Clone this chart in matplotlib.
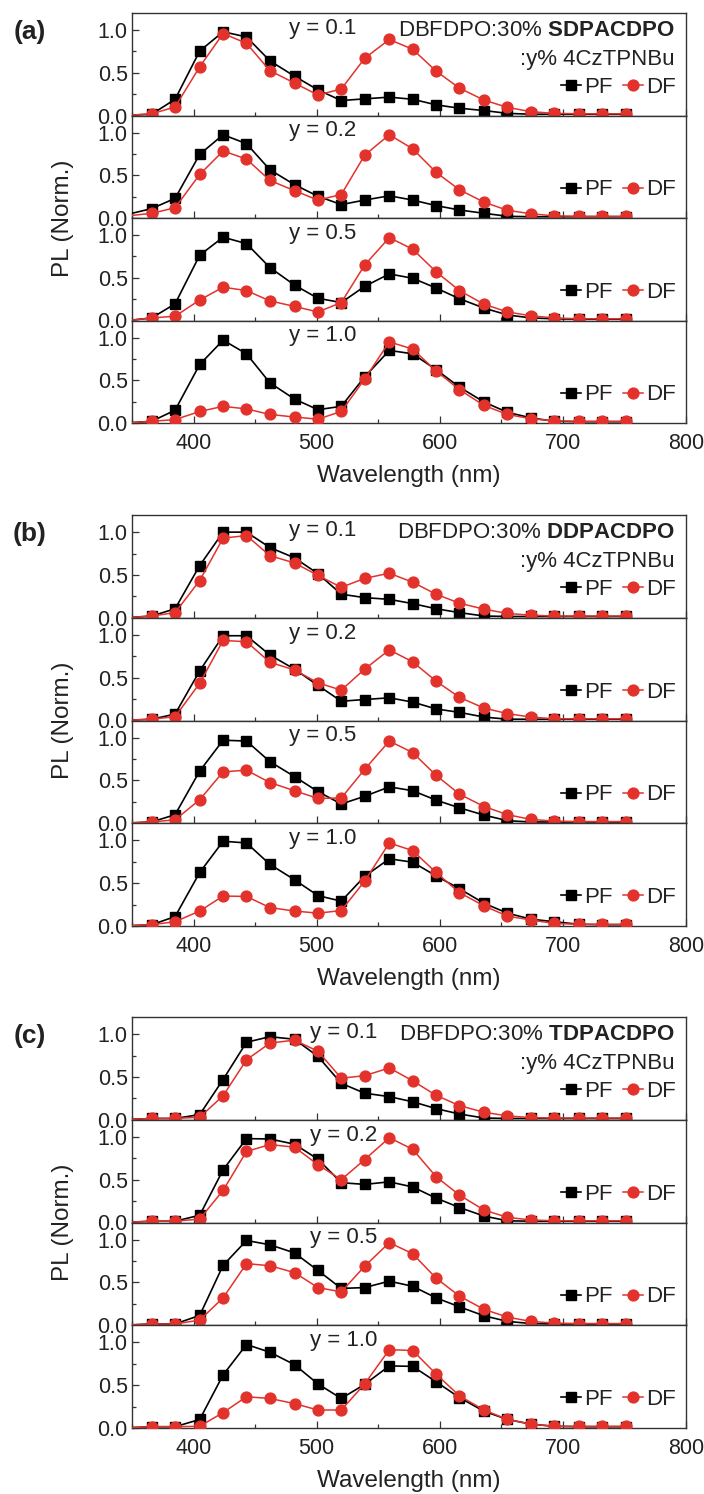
import matplotlib
matplotlib.use('Agg')
import matplotlib.pyplot as plt
from matplotlib.ticker import MultipleLocator, FormatStrFormatter

plt.rcParams['font.family'] = ['Liberation Sans', 'DejaVu Sans']
plt.rcParams['mathtext.fontset'] = 'custom'
plt.rcParams['mathtext.rm'] = 'Liberation Sans'
plt.rcParams['mathtext.bf'] = 'Liberation Sans:bold'

# ---------------- data ----------------
WAVELENGTH = [350, 366, 385, 405, 424, 443, 462, 482, 501, 520, 539,
              559, 578, 597, 616, 636, 655, 674, 693, 713, 732, 751]

Y_LABELS = ["y = 0.1", "y = 0.2", "y = 0.5", "y = 1.0"]
HOSTS = ["SDPACDPO", "DDPACDPO", "TDPACDPO"]
PANEL_TAGS = ["(a)", "(b)", "(c)"]

A1_PF = [0.005, 0.015, 0.19, 0.755, 0.98, 0.92, 0.64, 0.46, 0.30, 0.175, 0.195, 0.215, 0.19, 0.125, 0.085, 0.058, 0.025, 0.015, 0.015, 0.015, 0.015, 0.015]
A1_DF = [0.005, 0.02, 0.10, 0.57, 0.96, 0.845, 0.525, 0.38, 0.24, 0.31, 0.67, 0.89, 0.775, 0.52, 0.32, 0.18, 0.095, 0.045, 0.025, 0.02, 0.02, 0.02]
A2_PF = [0.055, 0.11, 0.23, 0.745, 0.975, 0.87, 0.565, 0.39, 0.255, 0.157, 0.21, 0.26, 0.21, 0.145, 0.094, 0.055, 0.02, 0.015, 0.015, 0.015, 0.015, 0.015]
A2_DF = [0.03, 0.055, 0.12, 0.51, 0.785, 0.69, 0.44, 0.32, 0.21, 0.275, 0.735, 0.975, 0.81, 0.535, 0.33, 0.185, 0.09, 0.05, 0.025, 0.02, 0.02, 0.02]
A3_PF = [0.005, 0.03, 0.195, 0.765, 0.975, 0.90, 0.62, 0.415, 0.26, 0.21, 0.40, 0.545, 0.495, 0.38, 0.255, 0.145, 0.065, 0.03, 0.02, 0.015, 0.015, 0.015]
A3_DF = [0.005, 0.03, 0.05, 0.24, 0.39, 0.35, 0.23, 0.165, 0.10, 0.21, 0.65, 0.97, 0.835, 0.57, 0.35, 0.19, 0.10, 0.055, 0.03, 0.02, 0.02, 0.02]
A4_PF = [0.005, 0.02, 0.15, 0.685, 0.97, 0.81, 0.47, 0.28, 0.156, 0.195, 0.54, 0.85, 0.81, 0.625, 0.42, 0.245, 0.125, 0.06, 0.02, 0.015, 0.015, 0.015]
A4_DF = [0.005, 0.02, 0.04, 0.135, 0.195, 0.165, 0.10, 0.07, 0.045, 0.135, 0.515, 0.95, 0.865, 0.61, 0.39, 0.205, 0.10, 0.05, 0.025, 0.02, 0.02, 0.02]

B1_PF = [0.005, 0.02, 0.105, 0.61, 1.0, 1.0, 0.82, 0.70, 0.515, 0.275, 0.235, 0.215, 0.165, 0.105, 0.06, 0.02, 0.015, 0.015, 0.015, 0.015, 0.015, 0.015]
B1_DF = [0.005, 0.02, 0.06, 0.435, 0.93, 0.96, 0.725, 0.64, 0.495, 0.355, 0.46, 0.52, 0.415, 0.275, 0.17, 0.10, 0.05, 0.03, 0.02, 0.02, 0.02, 0.02]
B2_PF = [0.005, 0.015, 0.075, 0.58, 0.99, 0.99, 0.765, 0.60, 0.41, 0.225, 0.245, 0.265, 0.215, 0.135, 0.095, 0.04, 0.015, 0.015, 0.015, 0.015, 0.015, 0.015]
B2_DF = [0.005, 0.015, 0.045, 0.435, 0.935, 0.92, 0.68, 0.59, 0.44, 0.355, 0.60, 0.825, 0.685, 0.46, 0.27, 0.145, 0.08, 0.04, 0.02, 0.02, 0.02, 0.02]
B3_PF = [0.005, 0.015, 0.10, 0.61, 0.97, 0.96, 0.72, 0.545, 0.37, 0.225, 0.315, 0.425, 0.38, 0.27, 0.18, 0.095, 0.03, 0.015, 0.015, 0.015, 0.015, 0.015]
B3_DF = [0.005, 0.015, 0.04, 0.275, 0.60, 0.62, 0.475, 0.38, 0.29, 0.295, 0.63, 0.96, 0.825, 0.56, 0.34, 0.195, 0.10, 0.045, 0.025, 0.02, 0.02, 0.02]
B4_PF = [0.005, 0.015, 0.11, 0.625, 0.99, 0.97, 0.72, 0.54, 0.355, 0.29, 0.58, 0.785, 0.745, 0.585, 0.435, 0.265, 0.15, 0.08, 0.05, 0.02, 0.015, 0.015]
B4_DF = [0.005, 0.015, 0.05, 0.175, 0.35, 0.345, 0.215, 0.175, 0.15, 0.18, 0.525, 0.97, 0.88, 0.625, 0.39, 0.235, 0.115, 0.07, 0.03, 0.02, 0.02, 0.02]

C1_PF = [0.005, 0.015, 0.015, 0.06, 0.47, 0.905, 0.97, 0.94, 0.74, 0.425, 0.31, 0.27, 0.21, 0.13, 0.067, 0.02, 0.015, 0.015, 0.015, 0.015, 0.015, 0.015]
C1_DF = [0.005, 0.015, 0.015, 0.03, 0.28, 0.70, 0.895, 0.93, 0.80, 0.485, 0.515, 0.605, 0.455, 0.285, 0.165, 0.087, 0.045, 0.025, 0.02, 0.02, 0.02, 0.02]
C2_PF = [0.005, 0.015, 0.015, 0.085, 0.615, 0.98, 0.975, 0.915, 0.74, 0.465, 0.445, 0.475, 0.415, 0.285, 0.175, 0.075, 0.02, 0.015, 0.015, 0.015, 0.015, 0.015]
C2_DF = [0.005, 0.015, 0.015, 0.04, 0.375, 0.83, 0.91, 0.88, 0.675, 0.50, 0.735, 0.99, 0.855, 0.535, 0.32, 0.145, 0.06, 0.03, 0.02, 0.02, 0.02, 0.02]
C3_PF = [0.005, 0.015, 0.015, 0.115, 0.70, 0.99, 0.94, 0.845, 0.64, 0.43, 0.44, 0.515, 0.455, 0.32, 0.215, 0.11, 0.045, 0.02, 0.015, 0.015, 0.015, 0.015]
C3_DF = [0.005, 0.015, 0.015, 0.06, 0.32, 0.72, 0.695, 0.615, 0.44, 0.39, 0.69, 0.965, 0.835, 0.55, 0.34, 0.185, 0.095, 0.045, 0.025, 0.02, 0.02, 0.02]
C4_PF = [0.005, 0.015, 0.015, 0.10, 0.62, 0.975, 0.885, 0.74, 0.515, 0.345, 0.51, 0.725, 0.72, 0.54, 0.355, 0.195, 0.10, 0.045, 0.02, 0.015, 0.015, 0.015]
C4_DF = [0.005, 0.015, 0.015, 0.02, 0.18, 0.365, 0.345, 0.285, 0.21, 0.21, 0.515, 0.915, 0.905, 0.63, 0.375, 0.21, 0.10, 0.045, 0.02, 0.02, 0.02, 0.02]

PANEL_SERIES = [
    [(A1_PF, A1_DF), (A2_PF, A2_DF), (A3_PF, A3_DF), (A4_PF, A4_DF)],
    [(B1_PF, B1_DF), (B2_PF, B2_DF), (B3_PF, B3_DF), (B4_PF, B4_DF)],
    [(C1_PF, C1_DF), (C2_PF, C2_DF), (C3_PF, C3_DF), (C4_PF, C4_DF)],
]
# x-position (nm) of the "y = ..." labels per panel
YLABEL_X = [505, 505, 522]

# ---------------- layout ----------------
W, H = 704, 1494
fig = plt.figure(figsize=(W / 100, H / 100), dpi=100)
fig.patch.set_facecolor('white')

LEFT_PX, RIGHT_PX = 132, 686
PANEL_PX = [(13, 423), (515, 926), (1017, 1428)]  # top, bottom in pixels
RED = '#e2322b'

TICK_FS = 15.5
TEXT_FS = 16
LEG_FS = 16
LABEL_FS = 17.5

for p, (top_px, bot_px) in enumerate(PANEL_PX):
    sub_h = (bot_px - top_px) / 4.0
    for i in range(4):
        y_top = top_px + i * sub_h
        ax = fig.add_axes([LEFT_PX / W, 1 - (y_top + sub_h) / H,
                           (RIGHT_PX - LEFT_PX) / W, sub_h / H])
        pf, df = PANEL_SERIES[p][i]
        ax.plot(WAVELENGTH, pf, '-', color='black', lw=1.2, marker='s',
                ms=6.8, markevery=slice(1, None), label='PF', zorder=3)
        ax.plot(WAVELENGTH, df, '-', color=RED, lw=1.1, marker='o',
                ms=7.8, mec=RED, mfc=RED, markevery=slice(1, None),
                label='DF', zorder=4)
        ax.set_xlim(350, 800)
        ax.set_ylim(0, 1.2)
        ax.xaxis.set_major_locator(MultipleLocator(100))
        ax.xaxis.set_minor_locator(MultipleLocator(50))
        ax.yaxis.set_major_locator(MultipleLocator(0.5))
        ax.yaxis.set_minor_locator(MultipleLocator(0.25))
        ax.yaxis.set_major_formatter(FormatStrFormatter('%.1f'))
        ax.tick_params(which='both', direction='in', top=False, right=False,
                       labelsize=TICK_FS, width=0.9, color='#333333',
                       labelcolor='#222222')
        ax.tick_params(which='major', length=5, pad=3)
        ax.tick_params(which='minor', length=3)
        ax.tick_params(axis='x', which='major', pad=7)
        for s in ax.spines.values():
            s.set_linewidth(1.0)
            s.set_color('#333333')
        if i < 3:
            ax.tick_params(axis='x', labelbottom=False)
        else:
            ax.set_xlabel('Wavelength (nm)', fontsize=LABEL_FS, labelpad=8,
                          color='#222222')

        ax.text(YLABEL_X[p], 1.02, Y_LABELS[i], fontsize=TEXT_FS,
                ha='center', va='center', color='#222222')
        ax.legend(loc='center right', bbox_to_anchor=(0.982, 0.275),
                  ncol=2, frameon=False, fontsize=LEG_FS,
                  handlelength=0.9, handletextpad=0.15,
                  columnspacing=0.45, borderpad=0, borderaxespad=0,
                  numpoints=1, labelcolor='#222222')
        if i == 0:
            ax.text(0.98, 0.833, 'DBFDPO:30% $\\mathbf{' + HOSTS[p] + '}$',
                    transform=ax.transAxes, fontsize=TEXT_FS,
                    ha='right', va='center', color='#222222')
            ax.text(0.98, 0.55, ':y% 4CzTPNBu', transform=ax.transAxes,
                    fontsize=TEXT_FS, ha='right', va='center',
                    color='#222222')

    # panel tag
    fig.text(30 / W, 1 - (top_px + 19) / H, PANEL_TAGS[p], fontsize=19,
             fontweight='bold', ha='center', va='center', color='#222222')
    # y label
    fig.text(63 / W, 1 - ((top_px + bot_px) / 2) / H, 'PL (Norm.)',
             fontsize=LABEL_FS, rotation=90, ha='center', va='center',
             color='#222222')

fig.savefig('out.png', dpi=100, facecolor='white')
